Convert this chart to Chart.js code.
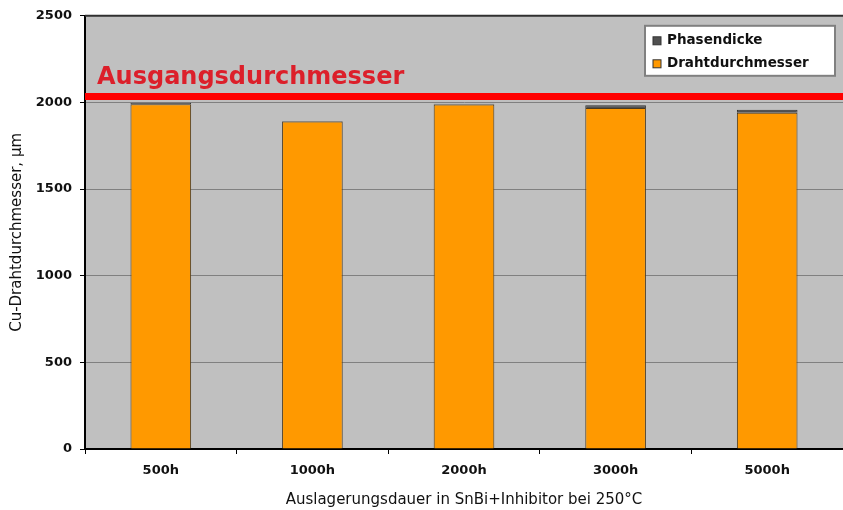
<!DOCTYPE html>
<html>
<head>
<meta charset="utf-8">
<script src="https://cdn.jsdelivr.net/npm/chart.js@4.4.1/dist/chart.umd.min.js"></script>
<style>
  html, body { margin: 0; padding: 0; background: #fff; }
  #wrap { width: 843px; height: 510px; }
</style>
</head>
<body>
<div id="wrap"><canvas id="drahtChart" width="843" height="510"></canvas></div>
<script>
// Data
const categories = ['500h', '1000h', '2000h', '3000h', '5000h'];
const drahtdurchmesser = [1990, 1890, 1988, 1968, 1940];
const phasendicke = [8, 3, 4, 16, 18];
const yTicks = [0, 500, 1000, 1500, 2000, 2500];
const refValue = 2035;
const refLabel = 'Ausgangsdurchmesser';

const FONT = 'DejaVu Sans';

const chartDecor = {
  id: 'chartDecor',
  beforeDraw(chart) {
    const { ctx, chartArea: a } = chart;
    ctx.save();
    ctx.fillStyle = '#c0c0c0';
    ctx.fillRect(a.left, a.top, a.right - a.left, a.bottom - a.top);
    ctx.restore();
  },
  afterDatasetsDraw(chart) {
    const { ctx, chartArea: a, scales } = chart;
    const y = scales.y.getPixelForValue(refValue);
    ctx.save();
    ctx.strokeStyle = '#ff0000';
    ctx.lineWidth = 7;
    ctx.beginPath();
    ctx.moveTo(a.left, y);
    ctx.lineTo(a.right, y);
    ctx.stroke();
    ctx.fillStyle = '#dc1f2a';
    ctx.font = 'bold 24px ' + FONT;
    ctx.textBaseline = 'alphabetic';
    ctx.textAlign = 'left';
    ctx.fillText(refLabel, a.left + 12, y - 12);
    ctx.restore();
  },
  afterDraw(chart) {
    const { ctx, chartArea: a } = chart;
    ctx.save();
    // top border of plot area
    ctx.strokeStyle = '#303030';
    ctx.lineWidth = 2;
    ctx.beginPath();
    ctx.moveTo(a.left, a.top);
    ctx.lineTo(a.right, a.top);
    ctx.stroke();

    // legend (reverse order, like the stacked original)
    const items = chart.data.datasets.slice().reverse();
    const bw = 190, bh = 50;
    const bx = a.right - bw - 8, by = a.top + 10;
    ctx.fillStyle = '#ffffff';
    ctx.fillRect(bx, by, bw, bh);
    ctx.strokeStyle = '#808080';
    ctx.lineWidth = 2;
    ctx.strokeRect(bx, by, bw, bh);
    ctx.font = 'bold 13.5px ' + FONT;
    ctx.textBaseline = 'middle';
    items.forEach((ds, i) => {
      const cy = by + 15 + i * 23;
      ctx.fillStyle = ds.backgroundColor;
      ctx.fillRect(bx + 8, cy - 4, 8, 8);
      ctx.strokeStyle = '#333';
      ctx.lineWidth = 1;
      ctx.strokeRect(bx + 8, cy - 4, 8, 8);
      ctx.fillStyle = '#111';
      ctx.fillText(ds.label, bx + 22, cy);
    });
    ctx.restore();
  }
};

const ctx = document.getElementById('drahtChart').getContext('2d');
new Chart(ctx, {
  type: 'bar',
  data: {
    labels: categories,
    datasets: [
      {
        label: 'Drahtdurchmesser',
        data: drahtdurchmesser,
        backgroundColor: '#ff9900',
        borderColor: '#4a3a20',
        borderWidth: 1,
        barPercentage: 0.4,
        categoryPercentage: 1
      },
      {
        label: 'Phasendicke',
        data: phasendicke,
        backgroundColor: '#505050',
        borderColor: '#303030',
        borderWidth: 1,
        barPercentage: 0.4,
        categoryPercentage: 1
      }
    ]
  },
  options: {
    responsive: false,
    animation: false,
    layout: { padding: { top: 15, right: 0, left: 0, bottom: 0 } },
    plugins: {
      legend: { display: false },
      tooltip: { enabled: false }
    },
    scales: {
      x: {
        stacked: true,
        grid: {
          offset: true,
          drawOnChartArea: false,
          drawTicks: true,
          tickLength: 5,
          tickColor: '#000'
        },
        border: { display: true, color: '#000', width: 2 },
        ticks: {
          color: '#111',
          padding: 9,
          font: { family: FONT, size: 13, weight: 'bold' }
        },
        title: {
          display: true,
          text: 'Auslagerungsdauer in SnBi+Inhibitor bei 250°C',
          color: '#111',
          font: { family: FONT, size: 15 },
          padding: { top: 0, bottom: 1 }
        },
        afterFit(scale) { scale.height = 61; }
      },
      y: {
        stacked: true,
        min: 0,
        max: 2500,
        afterBuildTicks(scale) { scale.ticks = yTicks.map(v => ({ value: v })); },
        grid: {
          color: ctx => (ctx.tick && (ctx.tick.value === 0 || ctx.tick.value === 2500)) ? 'rgba(0,0,0,0)' : '#808080',
          lineWidth: 1,
          tickLength: 5,
          tickColor: '#000'
        },
        border: { display: true, color: '#000', width: 2 },
        ticks: {
          color: '#111',
          padding: 8,
          font: { family: FONT, size: 13, weight: 'bold' },
          callback: v => String(v)
        },
        title: {
          display: true,
          text: 'Cu-Drahtdurchmesser, µm',
          color: '#111',
          font: { family: FONT, size: 15 },
          padding: { top: 8, bottom: 0 }
        },
        afterFit(scale) { scale.width = 85; }
      }
    }
  },
  plugins: [chartDecor]
});
</script>
</body>
</html>
